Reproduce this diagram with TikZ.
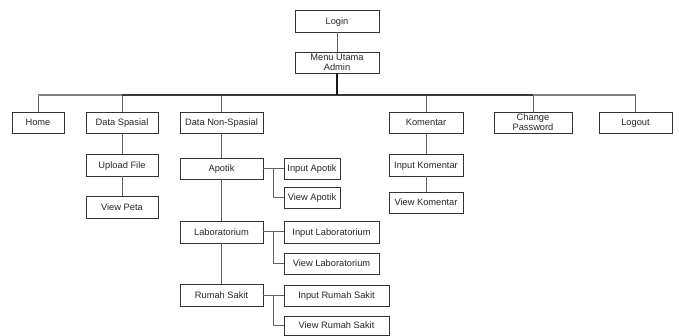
\documentclass[tikz,border=0pt]{standalone}
\usepackage{fontspec}
\setmainfont{Liberation Sans}
\begin{document}
\begin{tikzpicture}[x=1pt,y=-1pt,
  box/.style={draw=black!80,line width=0.8pt,fill=white,rectangle,inner sep=0pt,
    minimum height=21pt,font=\fontsize{9.3}{10}\selectfont,text=black!85,align=center},
  one/.style={box,text height=7.2pt,text depth=0.3pt},
  conn/.style={draw=black!62,line width=1pt},
  busdark/.style={draw=black!78,line width=1.4pt},
  buslight/.style={draw=black!50,line width=1.4pt},
  thk/.style={draw=black!90,line width=1.8pt}]
\useasboundingbox (0,0) rectangle (679,336);
% top
\node[one,minimum width=84pt,minimum height=22pt] (login) at (337,21) {Login};
\node[box,minimum width=84pt] (menu) at (337,62.5) {Menu Utama\\Admin};
% level 1
\node[one,minimum width=52pt] (home) at (38,122.5) {Home};
\node[one,minimum width=72pt] (dsp) at (122,122.5) {Data Spasial};
\node[one,minimum width=83pt] (dns) at (221.5,122.5) {Data Non-Spasial};
\node[one,minimum width=74pt] (kom) at (426,122.5) {Komentar};
\node[box,minimum width=78pt] (chp) at (533,122.5) {Change\\Password};
\node[one,minimum width=73pt] (logout) at (635.5,122.5) {Logout};
% data spasial
\node[one,minimum width=72pt,minimum height=22pt] (upload) at (122,165) {Upload File};
\node[one,minimum width=72pt,minimum height=22pt] (viewpeta) at (122,207) {View Peta};
% data non-spasial
\node[one,minimum width=83pt] (apotik) at (221.5,168.5) {Apotik};
\node[one,minimum width=83pt,minimum height=22pt] (lab) at (221.5,232) {Laboratorium};
\node[one,minimum width=83pt,minimum height=22pt] (rs) at (221.5,295.5) {Rumah Sakit};
\node[one,minimum width=56pt] (inapotik) at (312,168.5) {Input Apotik};
\node[one,minimum width=56pt] (viewapotik) at (312,197.5) {View Apotik};
\node[one,minimum width=95pt,minimum height=22pt] (inlab) at (331.5,232) {Input Laboratorium};
\node[one,minimum width=95pt] (viewlab) at (331.5,263.5) {View Laboratorium};
\node[one,minimum width=105pt] (inrs) at (336.5,295.5) {Input Rumah Sakit};
\node[one,minimum width=105pt,minimum height=19pt] (viewrs) at (336.5,325.5) {View Rumah Sakit};
% komentar
\node[one,minimum width=74pt,minimum height=22pt] (inkom) at (426,165) {Input Komentar};
\node[one,minimum width=74pt] (viewkom) at (426,202.5) {View Komentar};
% connectors
\coordinate (bus) at (337,95);
\draw[conn] (login.south) -- (menu.north);
\draw[conn] (home.north) -- (home.north |- bus);
\draw[conn] (dsp.north) -- (dsp.north |- bus);
\draw[conn] (dns.north) -- (dns.north |- bus);
\draw[conn] (kom.north) -- (kom.north |- bus);
\draw[conn] (chp.north) -- (chp.north |- bus);
\draw[conn] (logout.north) -- (logout.north |- bus);
\draw[buslight] (home.north |- bus) -- (dsp.north |- bus);
\draw[busdark] (dsp.north |- bus) -- (chp.north |- bus);
\draw[buslight] (chp.north |- bus) -- (logout.north |- bus);
\draw[thk] (menu.south) -- (bus);
\draw[conn] (dsp.south) -- (upload.north);
\draw[conn] (upload.south) -- (viewpeta.north);
\draw[conn] (dns.south) -- (apotik.north);
\draw[conn] (apotik.south) -- (lab.north);
\draw[conn] (lab.south) -- (rs.north);
\draw[conn] (kom.south) -- (inkom.north);
\draw[conn] (inkom.south) -- (viewkom.north);
\coordinate (ja) at (273.5,168.5);
\coordinate (jl) at (273.5,232);
\coordinate (jr) at (273.5,295.5);
\draw[conn] (apotik.east) -- (inapotik.west);
\draw[conn] (ja) |- (viewapotik.west);
\draw[conn] (lab.east) -- (inlab.west);
\draw[conn] (jl) |- (viewlab.west);
\draw[conn] (rs.east) -- (inrs.west);
\draw[conn] (jr) |- (viewrs.west);
\end{tikzpicture}
\end{document}
